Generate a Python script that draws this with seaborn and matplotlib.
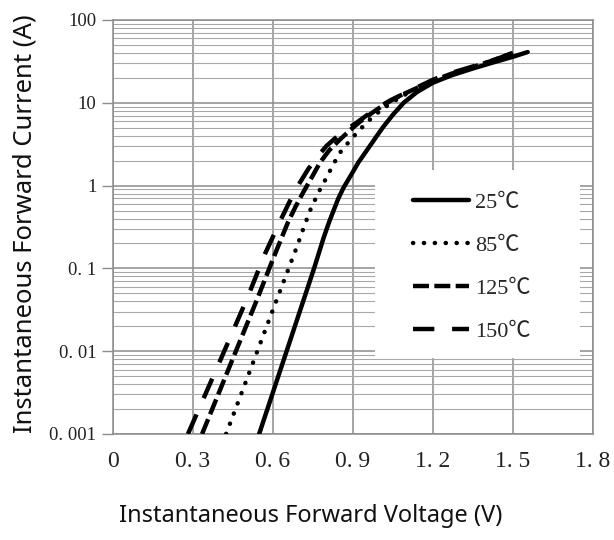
import numpy as np
import pandas as pd
import matplotlib
matplotlib.use("Agg")
import matplotlib.pyplot as plt
import matplotlib.ticker as mticker
from matplotlib.patches import Rectangle
import seaborn as sns

v_25 = [0.548, 0.651, 0.754, 0.79, 0.81, 0.825, 0.845, 0.865, 0.889, 0.92, 0.953,
        0.985, 1.013, 1.05, 1.09, 1.14, 1.2, 1.27, 1.35, 1.43, 1.5, 1.555]
i_25 = [0.001, 0.01, 0.1, 0.235, 0.36, 0.48, 0.7, 0.95, 1.28, 1.9, 2.7,
        3.8, 5.1, 7.2, 10.0, 13.5, 17.5, 21.5, 26.0, 31.0, 36.0, 41.0]

v_85 = [0.424, 0.51, 0.596, 0.69, 0.715, 0.739, 0.77, 0.8025, 0.826, 0.851, 0.882,
        0.915, 0.945, 0.975, 1.01, 1.05, 1.1, 1.2, 1.27, 1.35, 1.43, 1.5]
i_85 = [0.001, 0.0054, 0.0295, 0.184, 0.31, 0.5, 0.82, 1.28, 1.8, 2.5, 3.3,
        4.35, 5.5, 6.8, 8.4, 10.3, 12.8, 18.0, 22.0, 27.0, 33.0, 40.0]

v_125 = [0.334, 0.437, 0.54, 0.6, 0.656, 0.685, 0.7125, 0.745, 0.776, 0.81, 0.851,
         0.89, 0.926, 0.97, 1.0125, 1.05, 1.1, 1.2, 1.27, 1.35, 1.43, 1.5]
i_125 = [0.001, 0.0065, 0.042, 0.13, 0.36, 0.56, 0.82, 1.25, 1.89, 2.65, 3.6,
         4.7, 5.9, 7.5, 9.3, 11.0, 13.2, 18.5, 22.5, 27.0, 33.0, 40.0]

v_150 = [0.281, 0.39, 0.5025, 0.57, 0.633, 0.668, 0.701, 0.733, 0.765, 0.8, 0.84,
         0.878, 0.915, 0.95, 0.99, 1.04, 1.1, 1.2, 1.27, 1.35, 1.43, 1.5]
i_150 = [0.001, 0.0063, 0.043, 0.15, 0.41, 0.7, 1.09, 1.6, 2.2, 3.0, 3.9,
         4.8, 5.8, 7.0, 8.6, 10.7, 13.3, 19.0, 23.0, 27.5, 33.0, 40.0]

etiquetas = ["25℃", "85℃", "125℃", "150℃"]
x_ticks = [0, 0.3, 0.6, 0.9, 1.2, 1.5, 1.8]
x_tick_labels = ["0", "0. 3", "0. 6", "0. 9", "1. 2", "1. 5", "1. 8"]
y_ticks = [0.001, 0.01, 0.1, 1, 10, 100]
y_tick_labels = ["0. 001", "0. 01", "0. 1", "1", "10", "100"]

curvas = [(v_25, i_25), (v_85, i_85), (v_125, i_125), (v_150, i_150)]
estilos = {
    "25℃": dict(linestyle="-"),
    "85℃": dict(linestyle=(0, (0.05, 2.4)), dash_capstyle="round"),
    "125℃": dict(linestyle=(0, (3.6, 1.2))),
    "150℃": dict(linestyle=(0, (4.8, 4.0))),
}

sns.set_theme(style="white")
serif = ["Liberation Serif", "Noto Sans CJK SC", "DejaVu Serif"]

fig = plt.figure(figsize=(6.14, 5.40), dpi=100)
ax = fig.add_axes([113 / 614, 1 - 434 / 540, 480 / 614, 414 / 540])

for (v, i), nombre in zip(curvas, etiquetas):
    df = pd.DataFrame({"V": v, "I": i})
    sns.lineplot(data=df, x="V", y="I", ax=ax, color="black", linewidth=3.2,
                 estimator=None, sort=False, label=nombre, zorder=3,
                 **estilos[nombre])

ax.set_yscale("log")
ax.set_xlim(0, 1.8)
ax.set_ylim(0.001, 100)

# Rejilla
ax.set_axisbelow(True)
ax.yaxis.set_minor_locator(mticker.LogLocator(base=10, subs=np.arange(2, 10)))
ax.yaxis.set_minor_formatter(mticker.NullFormatter())
ax.grid(True, which="major", axis="both", color="#8c8c8c", linewidth=1.1)
ax.grid(True, which="minor", axis="y", color="#a8a8a8", linewidth=0.8)

ax.set_xticks(x_ticks)
ax.set_xticklabels(x_tick_labels, fontsize=17, family=serif, color="#222222")
ax.set_yticks(y_ticks)
ax.set_yticklabels(y_tick_labels, fontsize=13.5, family=serif, color="#222222")
ax.tick_params(axis="x", length=0, pad=12)
ax.tick_params(axis="y", which="major", length=8, width=1, color="#8c8c8c",
               pad=4, left=True, direction="out")
ax.tick_params(axis="y", which="minor", length=0)

for s in ax.spines.values():
    s.set_color("#8c8c8c")
    s.set_linewidth(1.1)

ax.set_xlabel("Instantaneous Forward Voltage (V)", fontsize=17,
              family="Noto Sans", color="#111111")
ax.set_ylabel("Instantaneous Forward Current (A)", fontsize=18.5,
              family="Noto Sans", color="#111111")
ax.xaxis.set_label_coords(0.4125, -0.168)
ax.yaxis.set_label_coords(-0.158, 0.507)

# Caja blanca de la leyenda
ax.add_patch(Rectangle((0.546, 0.184), 0.427, 0.454, transform=ax.transAxes,
                       facecolor="white", edgecolor="none", zorder=2))

leg = ax.legend(loc="upper left", bbox_to_anchor=(0.625, 0.583), frameon=False,
                prop={"family": serif, "size": 16}, handlelength=2.5,
                handletextpad=0.3, labelspacing=1.0, borderpad=0,
                borderaxespad=0)
leg.set_zorder(4)

plt.savefig("out.png", dpi=100)
